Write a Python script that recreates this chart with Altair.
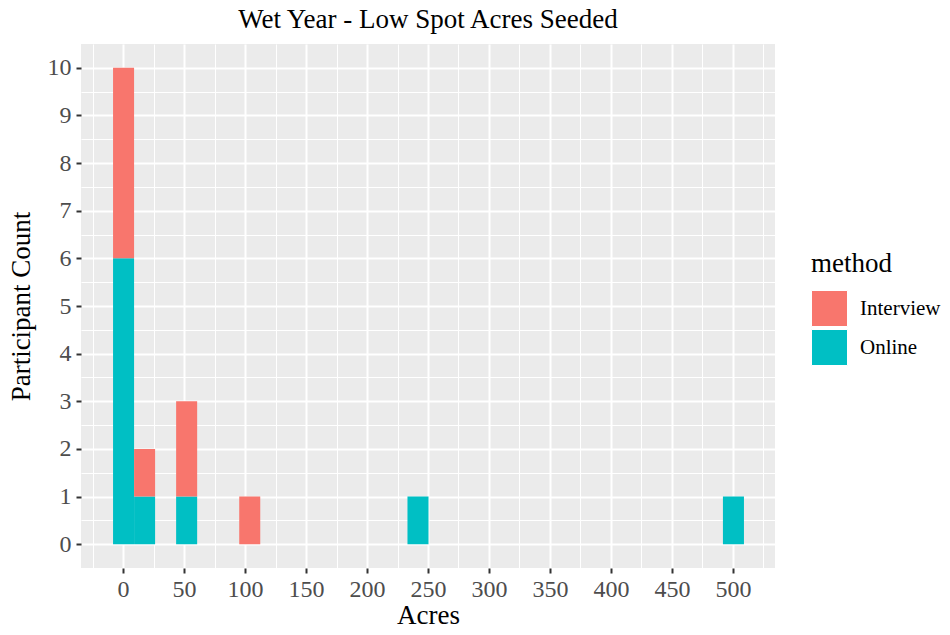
import altair as alt
import pandas as pd

# Histogram bins (centres, ggplot default 30 bins over 0..500)
bin_centers = [0.0, 17.24, 51.72, 103.45, 241.38, 500.0]
online_counts = [6, 1, 1, 0, 1, 1]
interview_counts = [4, 1, 2, 1, 0, 0]
bin_width = 17.24
methods = ["Interview", "Online"]
colors = ["#F8766D", "#00BFC4"]

rows = []
for c, on, iv in zip(bin_centers, online_counts, interview_counts):
    if on:
        rows.append({"start": c - bin_width / 2, "end": c + bin_width / 2,
                     "method": "Online", "count": on, "ord": 0})
    if iv:
        rows.append({"start": c - bin_width / 2, "end": c + bin_width / 2,
                     "method": "Interview", "count": iv, "ord": 1})
df = pd.DataFrame(rows)

FONT = "Liberation Serif"
x_vals = list(range(-25, 526, 25))
y_vals = [i / 2 for i in range(0, 21)]

x_axis = alt.Axis(
    values=x_vals,
    title="Acres",
    grid=True,
    labelExpr="datum.value % 50 === 0 ? format(datum.value, 'd') : ''",
    gridWidth={"condition": {"test": "datum.value % 50 === 0", "value": 2}, "value": 1},
    tickOpacity={"condition": {"test": "datum.value % 50 === 0", "value": 1}, "value": 0},
    labelPadding=4,
    titlePadding=1,
)
y_axis = alt.Axis(
    values=y_vals,
    title="Participant Count",
    grid=True,
    labelExpr="datum.value % 1 === 0 ? format(datum.value, 'd') : ''",
    gridWidth={"condition": {"test": "datum.value % 1 === 0", "value": 2}, "value": 1},
    tickOpacity={"condition": {"test": "datum.value % 1 === 0", "value": 1}, "value": 0},
    labelPadding=5,
    titlePadding=12,
)

chart = alt.Chart(df).mark_bar(binSpacing=0).encode(
    x=alt.X("start:Q", bin="binned",
            scale=alt.Scale(domain=[-34.48, 534.48], nice=False, zero=False),
            axis=x_axis),
    x2="end:Q",
    y=alt.Y("count:Q", stack="zero",
            scale=alt.Scale(domain=[-0.5, 10.5], nice=False, zero=False),
            axis=y_axis),
    color=alt.Color("method:N",
                    scale=alt.Scale(domain=methods, range=colors),
                    legend=alt.Legend(
                        title="method", orient="none", legendX=730, legendY=207,
                        symbolType="square", symbolSize=1296,
                        symbolStrokeColor="white", symbolStrokeWidth=1,
                        symbolOpacity=1,
                        titleFontSize=27, labelFontSize=21,
                        titleFont=FONT, labelFont=FONT,
                        titleFontWeight="normal", titleColor="black",
                        labelColor="black", titlePadding=12, rowPadding=-3,
                        labelOffset=12)),
    order=alt.Order("ord:Q"),
).properties(
    width=694,
    height=524,
    title=alt.TitleParams("Wet Year - Low Spot Acres Seeded", fontSize=27,
                          font=FONT, fontWeight="normal", color="black",
                          anchor="middle", frame="group", offset=10),
    autosize=alt.AutoSizeParams(type="none"),
    padding={"left": 73, "top": 36, "right": 167, "bottom": 59},
).configure_view(
    fill="#EBEBEB", stroke=None
).configure_axis(
    domain=False,
    gridColor="white",
    gridOpacity=1,
    tickColor="#333333",
    tickWidth=2,
    tickSize=5,
    labelFont=FONT,
    labelFontSize=24,
    labelColor="#4D4D4D",
    titleFont=FONT,
    titleFontSize=27,
    titleFontWeight="normal",
    titleColor="black",
)

chart.save("out.html", embed_options={"renderer": "svg", "actions": False})
